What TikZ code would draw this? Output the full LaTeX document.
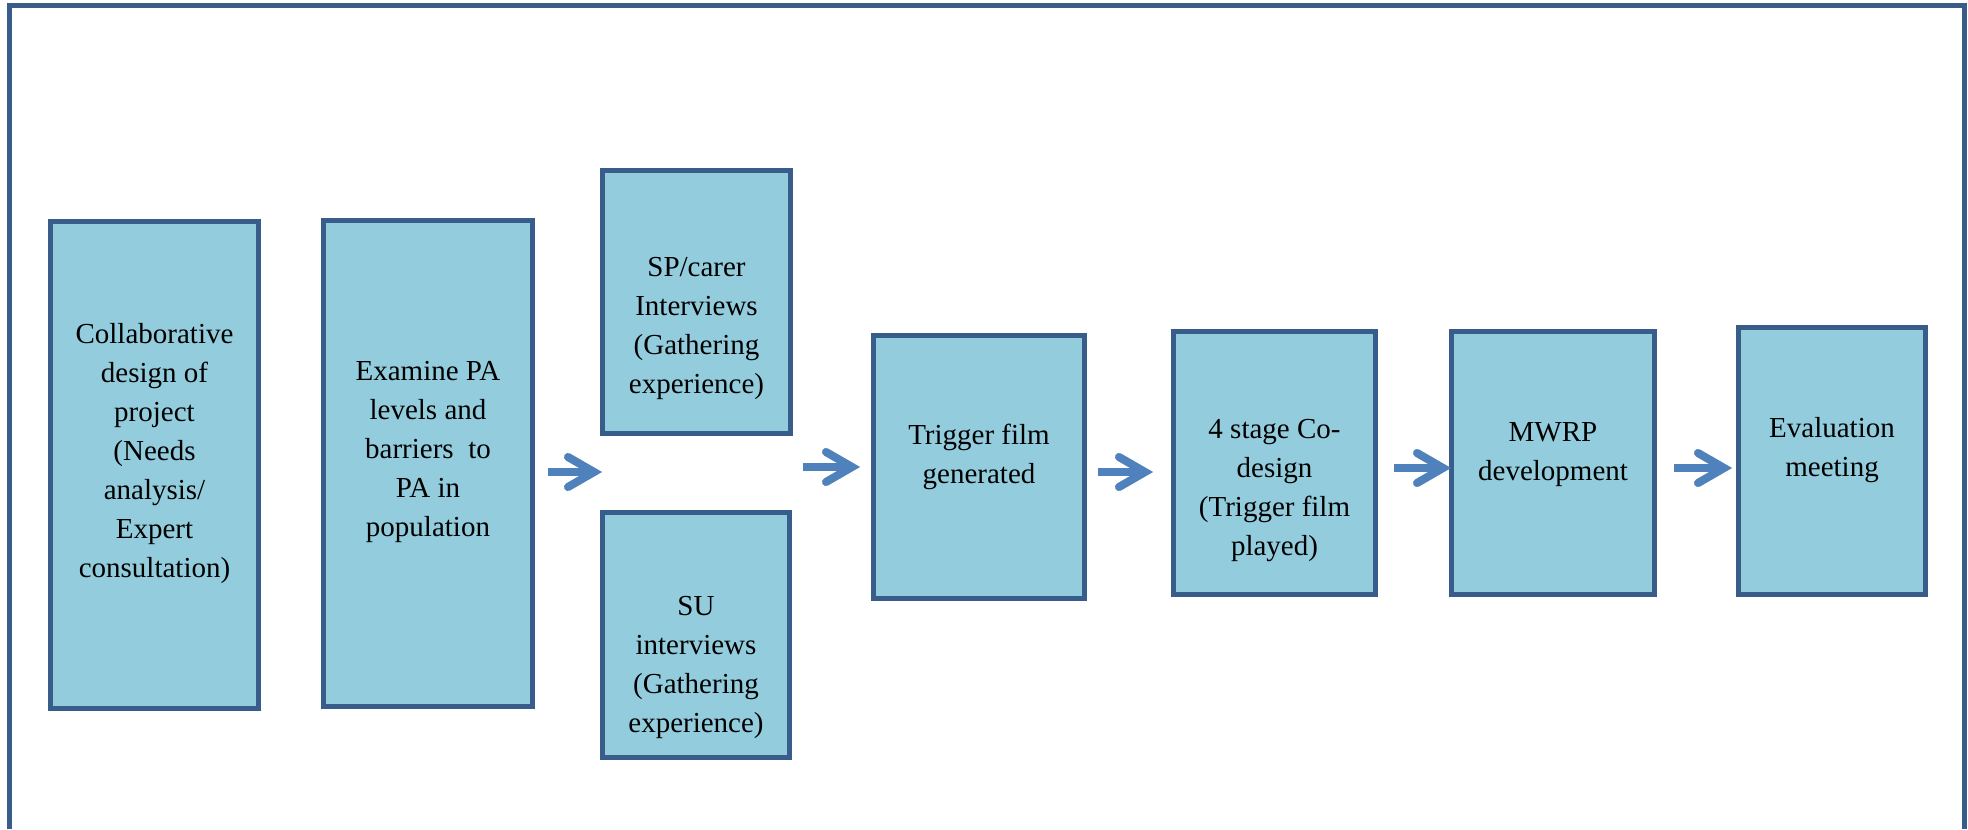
\documentclass[tikz,border=0pt]{standalone}
\usepackage{fontspec}
\setmainfont{Liberation Serif}
\usetikzlibrary{calc}

\definecolor{boxfill}{RGB}{147,205,221}
\definecolor{boxline}{RGB}{56,93,138}
\definecolor{arrowblue}{RGB}{79,129,189}

\tikzset{
  stepbox/.style={draw=boxline, fill=boxfill, line width=2.5pt, inner sep=0pt},
  % multi-line text: anchored at the baseline of its last line
  boxtext/.style={align=center, inner sep=0pt, anchor=base,
    font=\fontsize{14.5pt}{19.5pt}\selectfont},
  framebox/.style={draw=boxline, line width=2.5pt, line join=miter},
  flowshaft/.style={line width=4pt, line cap=butt},
  flowhead/.style={line width=4pt, line cap=round, line join=miter, miter limit=10},
}

% block arrow: shadow, shaft and open chevron head from #1 to #2
\newcommand\flowarrow[2]{%
  \foreach \dx/\dy/\col/\op in {2/3/black/0.18, 0/0/arrowblue/1}{%
    \begin{scope}[shift={(\dx,\dy)}, draw=\col, draw opacity=\op]
      \draw[flowshaft] (#1) -- ($(#2)+(-10,0)$);
      \draw[flowhead] ($(#2)+(-34,-15)$) -- ($(#2)+(-8,0)$) -- ($(#2)+(-34,15)$);
    \end{scope}}%
}

\begin{document}
\begin{tikzpicture}[x=0.5pt, y=-0.5pt]
  \useasboundingbox (0,0) rectangle (1968,829);

  % outer frame, open at the bottom
  \draw[framebox] (9,829) -- (9,6) -- (1964.5,6) -- (1964.5,829);

  % process boxes
  \node[stepbox, minimum width=104pt, minimum height=243.5pt] (collab) at (154.5,465) {};
  \node[stepbox, minimum width=104.5pt, minimum height=243pt] (examine) at (428,463.5) {};
  \node[stepbox, minimum width=94pt, minimum height=131.5pt] (spcarer) at (696.5,302) {};
  \node[stepbox, minimum width=93.5pt, minimum height=122.5pt] (suint) at (696,635) {};
  \node[stepbox, minimum width=105.5pt, minimum height=131.5pt] (trigger) at (979,467) {};
  \node[stepbox, minimum width=101pt, minimum height=131.5pt] (codesign) at (1274.5,463) {};
  \node[stepbox, minimum width=101.5pt, minimum height=131.5pt] (mwrp) at (1553,463) {};
  \node[stepbox, minimum width=93.5pt, minimum height=133.5pt] (evaluation) at (1832,461) {};

  % box texts
  \node[boxtext] (collabtext) at (154.5,577) {Collaborative\\design of\\project\\(Needs\\analysis/\\Expert\\consultation)};
  \node[boxtext] (examinetext) at (428,536) {Examine PA\\levels and\\barriers~ to\\PA in\\population};
  \node[boxtext] (spcarertext) at (696.5,393) {SP/carer\\Interviews\\(Gathering\\experience)};
  \node[boxtext] (suinttext) at (696,732) {SU\\interviews\\(Gathering\\experience)};
  \node[boxtext] (triggertext) at (979,483) {Trigger film\\generated};
  \node[boxtext] (codesigntext) at (1274.5,555) {4 stage Co-\\design\\(Trigger film\\played)};
  \node[boxtext] (mwrptext) at (1553,480) {MWRP\\development};
  \node[boxtext] (evaluationtext) at (1832,476) {Evaluation\\meeting};

  % arrow end points in the gaps between the boxes
  \coordinate (a1s) at ([xshift=6.5pt]examine.east |- 0,472);
  \coordinate (a1e) at ([xshift=1pt]spcarer.west |- 0,472);
  \coordinate (a2s) at ([xshift=5pt]spcarer.east |- 0,467);
  \coordinate (a2e) at ([xshift=-5.5pt]trigger.west |- 0,467);
  \coordinate (a3s) at ([xshift=5.5pt]trigger.east |- 0,472);
  \coordinate (a3e) at ([xshift=-9pt]codesign.west |- 0,472);
  \coordinate (a4s) at ([xshift=8pt]codesign.east |- 0,468);
  \coordinate (a4e) at ([xshift=1pt]mwrp.west |- 0,468);
  \coordinate (a5s) at ([xshift=8.5pt]mwrp.east |- 0,468);
  \coordinate (a5e) at ([xshift=-2pt]evaluation.west |- 0,468);

  \flowarrow{a1s}{a1e}
  \flowarrow{a2s}{a2e}
  \flowarrow{a3s}{a3e}
  \flowarrow{a4s}{a4e}
  \flowarrow{a5s}{a5e}
\end{tikzpicture}
\end{document}
